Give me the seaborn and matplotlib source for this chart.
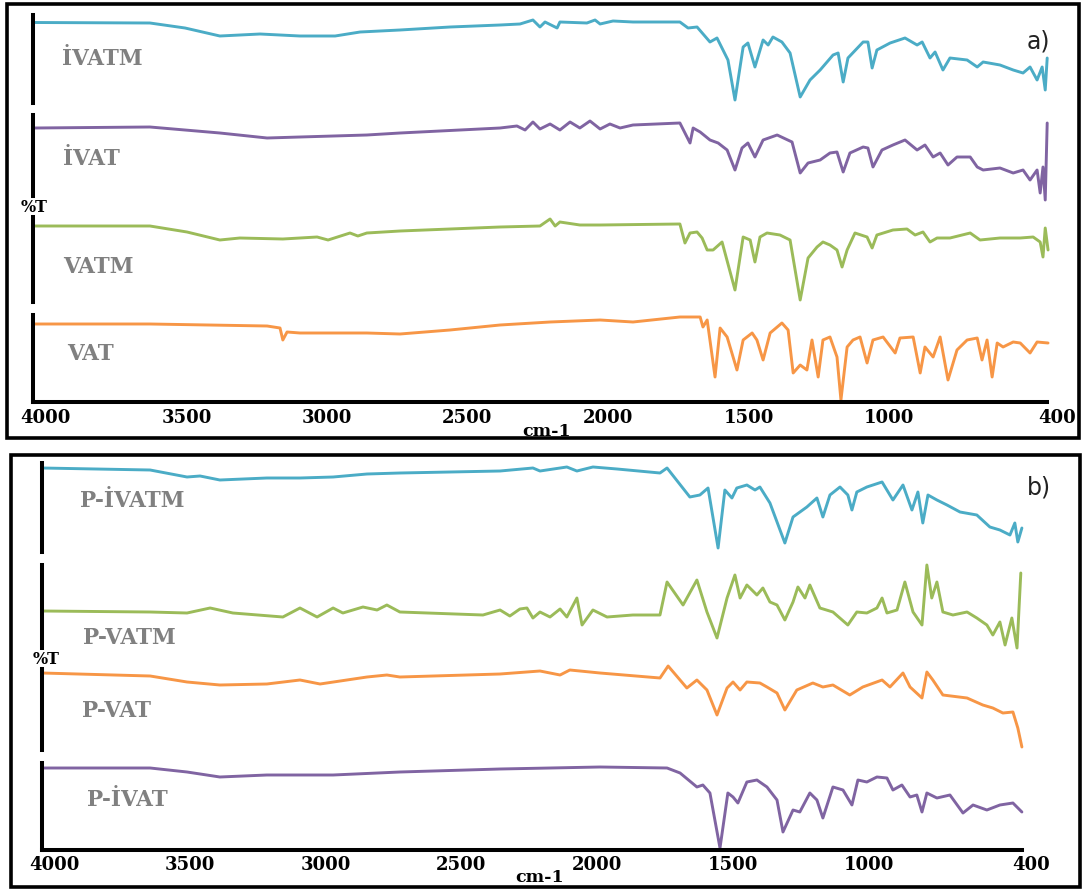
import matplotlib
matplotlib.use("Agg")
import matplotlib.pyplot as plt
import seaborn as sns
import pandas as pd
from matplotlib.patches import Rectangle

# ---------------- data (wavenumber cm-1, %T in arbitrary offset units) ----------------
tick_values = [4000, 3500, 3000, 2500, 2000, 1500, 1000, 400]
tick_labels = ["4000", "3500", "3000", "2500", "2000", "1500", "1000", "400"]

panel_a_names = ["İVATM", "İVAT", "VATM", "VAT"]
panel_b_names = ["P-İVATM", "P-VATM", "P-VAT", "P-İVAT"]

ivatm = [(4040,80.5),(3630,80),(3505,75),(3381,67),(3238,69),(3096,67),(2971,67),(2882,71),(2740,73),
         (2562,76),(2384,78),(2313,79),(2267,83),(2242,76),(2224,81),(2181,75),(2171,81),(2075,80),(2046,83),
         (2028,79),(1982,82),(1911,81),(1744,81),(1715,75),(1683,76),(1637,61),(1612,65),(1573,43),(1548,3),
         (1519,56),(1502,60),(1477,36),(1448,63),(1430,58),(1413,66),(1381,61),(1352,50),(1316,6),(1281,23),
         (1245,33),(1199,48),(1181,50),(1163,21),(1146,45),(1092,61),(1075,61),(1060,35),(1043,53),(996,60),
         (943,65),(900,58),(882,61),(854,45),(836,51),(808,33),(783,45),(722,43),(686,36),(665,41),(605,38),
         (558,33),(523,30),(498,36),(473,23),(455,36),(444,13),(437,45)]
ivat = [(4040,68),(3630,69),(3381,63),(3213,58),(3096,59),(2858,61),(2740,63),(2384,68),(2324,70),(2295,66),
        (2267,74),(2242,67),(2206,72),(2171,66),(2135,74),(2100,68),(2064,75),(2028,67),(1993,72),(1957,68),
        (1911,71),(1744,73),(1708,53),(1697,68),(1672,64),(1637,56),(1608,53),(1576,46),(1548,26),(1523,48),
        (1502,53),(1477,39),(1448,56),(1398,61),(1345,54),(1316,23),(1288,33),(1245,36),(1210,43),(1185,44),
        (1163,24),(1139,43),(1092,49),(1075,48),(1057,29),(1025,46),(986,51),(943,56),(900,46),(872,51),
        (843,39),(818,43),(790,31),(758,39),(711,39),(686,29),(665,26),(605,28),(558,23),(523,26),(498,16),
        (473,26),(462,3),(452,29),(444,-4),(437,73)]
vatm = [(4040,76),(3630,76),(3498,70),(3381,62),(3310,64),(3157,63),(3035,65),(2996,62),(2918,69),(2890,66),
        (2858,69),(2740,71),(2562,73),(2384,75),(2242,76),(2206,83),(2188,76),(2171,80),(2100,77),(2028,77),
        (1744,78),(1726,59),(1708,69),(1683,70),(1665,64),(1647,52),(1626,52),(1594,60),(1548,12),(1519,65),
        (1494,62),(1477,40),(1459,65),(1434,69),(1388,67),(1352,62),(1316,2),(1288,44),(1256,55),(1235,60),
        (1210,57),(1185,52),(1167,35),(1149,52),(1121,69),(1078,65),(1060,54),(1043,67),(986,72),(936,73),
        (907,67),(879,70),(854,60),(829,64),(783,64),(711,69),(676,62),(605,64),(533,64),(487,65),(462,60),
        (452,45),(444,74),(434,52)]
vat = [(4040,78),(3630,78),(3213,76),(3167,74),(3157,62),(3142,70),(3096,69),(2979,69),(2858,69),(2740,68),
       (2562,72),(2384,77),(2206,80),(2028,82),(1911,80),(1744,85),(1672,85),(1662,75),(1647,82),(1619,25),
       (1601,74),(1576,65),(1541,32),(1519,62),(1487,69),(1470,62),(1448,42),(1423,69),(1381,79),(1359,72),
       (1341,29),(1316,37),(1292,32),(1274,62),(1252,25),(1235,62),(1210,65),(1185,45),(1171,2),(1149,55),
       (1128,62),(1103,65),(1078,39),(1057,62),(1021,65),(978,49),(961,64),(914,65),(889,29),(872,55),
       (843,45),(818,65),(790,22),(758,52),(722,62),(686,64),(669,42),(651,62),(633,25),(615,59),(594,55),
       (558,60),(533,59),(498,49),(473,60),(434,59)]

p_ivatm = [(4045,84),(3646,82),(3510,75),(3462,76),(3389,72),(3216,74),(3094,74),(2972,75),(2847,78),(2726,79),
           (2357,81),(2236,84),(2210,81),(2111,85),(2074,81),(2015,85),(1926,83),(1768,79),(1742,84),(1658,55),
           (1621,57),(1591,64),(1554,4),(1529,62),(1503,54),(1485,64),(1448,67),(1418,62),(1400,65),(1363,49),
           (1308,9),(1278,35),(1227,45),(1190,54),(1168,35),(1142,57),(1105,65),(1076,57),(1061,42),(1043,60),
           (1006,65),(950,70),(910,52),(873,67),(840,42),(818,60),(800,29),(781,57),(748,52),(711,47),(663,40),
           (601,37),(553,25),(516,22),(479,17),(461,29),(450,10),(435,24)]
p_vatm = [(4045,37),(3646,36),(3510,35),(3425,40),(3341,35),(3157,31),(3094,40),(3031,31),(2972,40),(2936,35),
          (2862,41),(2810,38),(2774,43),(2726,36),(2420,33),(2357,38),(2321,32),(2284,39),(2258,40),(2236,30),
          (2210,36),(2173,31),(2136,39),(2111,31),(2074,50),(2055,23),(2015,38),(1963,31),(1868,33),(1768,33),
          (1742,66),(1683,43),(1632,68),(1595,36),(1558,10),(1521,50),(1492,73),(1473,50),(1448,63),(1411,53),
          (1389,60),(1363,46),(1337,43),(1308,28),(1278,46),(1260,61),(1234,50),(1216,63),(1179,40),(1131,36),
          (1076,23),(1043,36),(1006,35),(969,40),(950,50),(932,35),(895,38),(866,66),(836,36),(803,23),(785,83),
          (767,50),(748,66),(726,36),(689,33),(637,36),(601,30),(564,23),(542,13),(516,26),(497,3),(472,30),
          (453,0),(439,75)]
p_vat = [(4045,77),(3646,74),(3510,68),(3389,65),(3216,66),(3094,70),(3020,66),(2847,73),(2774,75),(2726,73),
         (2357,76),(2210,79),(2136,75),(2100,80),(1989,77),(1768,72),(1738,84),(1669,62),(1632,70),(1595,60),
         (1558,35),(1521,62),(1499,68),(1473,60),(1448,68),(1400,67),(1374,63),(1337,57),(1308,40),(1264,60),
         (1205,67),(1168,63),(1131,65),(1069,55),(1021,63),(950,70),(921,63),(873,77),(847,63),(803,52),
         (785,78),(763,70),(726,55),(637,52),(579,45),(542,42),(505,37),(468,38),(450,22),(435,3)]
p_ivat = [(4045,82),(3646,82),(3510,78),(3389,73),(3216,75),(2972,75),(2726,78),(2357,81),(1989,83),(1742,82),
          (1694,77),(1632,63),(1610,65),(1584,57),(1547,2),(1518,57),(1499,53),(1481,47),(1448,68),(1411,70),
          (1374,63),(1337,50),(1315,18),(1278,40),(1253,38),(1216,57),(1190,50),(1168,32),(1131,63),(1094,60),
          (1061,45),(1039,70),(1006,68),(969,73),(932,72),(910,60),(877,65),(847,53),(822,55),(803,38),(785,57),
          (748,52),(700,55),(652,37),(615,45),(564,40),(516,45),(468,47),(435,38)]

CYAN, PURPLE, GREEN, ORANGE = "#4BACC6", "#8064A2", "#9BBB59", "#F79646"

# ---------------- layout (pixels) ----------------
W, H = 1082, 890
sns.set_theme(style="white")
plt.rcParams['font.family'] = ['DejaVu Serif', 'DejaVu Sans']
fig = plt.figure(figsize=(W / 100, H / 100), dpi=100)


def add_ax(left, right, top, bottom):
    return fig.add_axes([left / W, 1 - bottom / H, (right - left) / W, (bottom - top) / H])


panels = [
    dict(left=33, right=1057.6, end=437,
         rows=[(15, 103), (115, 196), (217, 302), (315, 402)],
         series=[ivatm, ivat, vatm, vat], colors=[CYAN, PURPLE, GREEN, ORANGE],
         names=panel_a_names,
         label_pos=[(62, 59), (63, 159), (63, 267), (67, 354)],
         tick_pad=5, xlabel_y=431, xlabel_x=547,
         box=(7, 4, 1079, 438), pct=(34, 208), tag=("a)", 1027, 42)),
    dict(left=41.5, right=1031.4, end=435,
         rows=[(463, 552), (565, 648), (669, 750), (763, 850)],
         series=[p_ivatm, p_vatm, p_vat, p_ivat], colors=[CYAN, GREEN, ORANGE, PURPLE],
         names=panel_b_names,
         label_pos=[(80, 501), (83, 638), (82, 711), (87, 800)],
         tick_pad=4, xlabel_y=877, xlabel_x=540,
         box=(11, 455, 1080, 887), pct=(46, 660), tag=("b)", 1027, 488)),
]

for p in panels:
    aw = p['right'] - p['left']
    for i, ((top, bot), ser, col, name, (lx, ly)) in enumerate(
            zip(p['rows'], p['series'], p['colors'], p['names'], p['label_pos'])):
        ax = add_ax(p['left'], p['right'], top, bot)
        ax.patch.set_alpha(0)
        df = pd.DataFrame(ser, columns=["wavenumber", "T"])
        sns.lineplot(data=df, x="wavenumber", y="T", color=col, linewidth=2.1,
                     estimator=None, sort=False, ax=ax)
        for ln in ax.lines:
            ln.set_clip_on(False)
        ax.set_xlim(4046, 400)
        ax.set_ylim(0, bot - top)
        ax.set_xlabel("")
        ax.set_ylabel("")
        ax.set_yticks([])
        for s in ("top", "right"):
            ax.spines[s].set_visible(False)
        ax.spines['left'].set_linewidth(2.9)
        ax.spines['left'].set_color("black")
        ax.text((lx - p['left']) / aw, (bot - ly) / (bot - top), name, transform=ax.transAxes,
                ha="left", va="center", fontsize=15.5, fontweight="bold", color="#808080")
        if i < 3:
            ax.spines['bottom'].set_visible(False)
            ax.set_xticks([])
        else:
            ax.spines['bottom'].set_linewidth(2.9)
            ax.spines['bottom'].set_color("black")
            ax.spines['bottom'].set_bounds(4046, p['end'])
            ax.set_xticks(tick_values)
            ax.set_xticklabels(tick_labels)
            ax.tick_params(axis="x", length=0, pad=p['tick_pad'], labelsize=13, colors="black")
            for t in ax.get_xticklabels():
                t.set_fontweight("bold")
            ax.set_xlabel("cm-1", fontsize=12.5, fontweight="bold", color="black")
            ax.xaxis.set_label_coords((p['xlabel_x'] - p['left']) / aw,
                                      -(p['xlabel_y'] - bot) / (bot - top))
            ax.xaxis.label.set_va("center")

    x0, y0, x1, y1 = p['box']
    fig.add_artist(Rectangle((x0 / W, 1 - y1 / H), (x1 - x0) / W, (y1 - y0) / H,
                             transform=fig.transFigure, fill=False, lw=2.6, ec="black"))
    fig.text(p['pct'][0] / W, 1 - p['pct'][1] / H, "%T", ha="center", va="center",
             fontsize=11.5, fontweight="bold", color="black")
    tag, tx, ty = p['tag']
    fig.text(tx / W, 1 - ty / H, tag, ha="left", va="center", fontsize=17,
             family="DejaVu Sans", color="#222222")

fig.savefig("out.png", dpi=100)
